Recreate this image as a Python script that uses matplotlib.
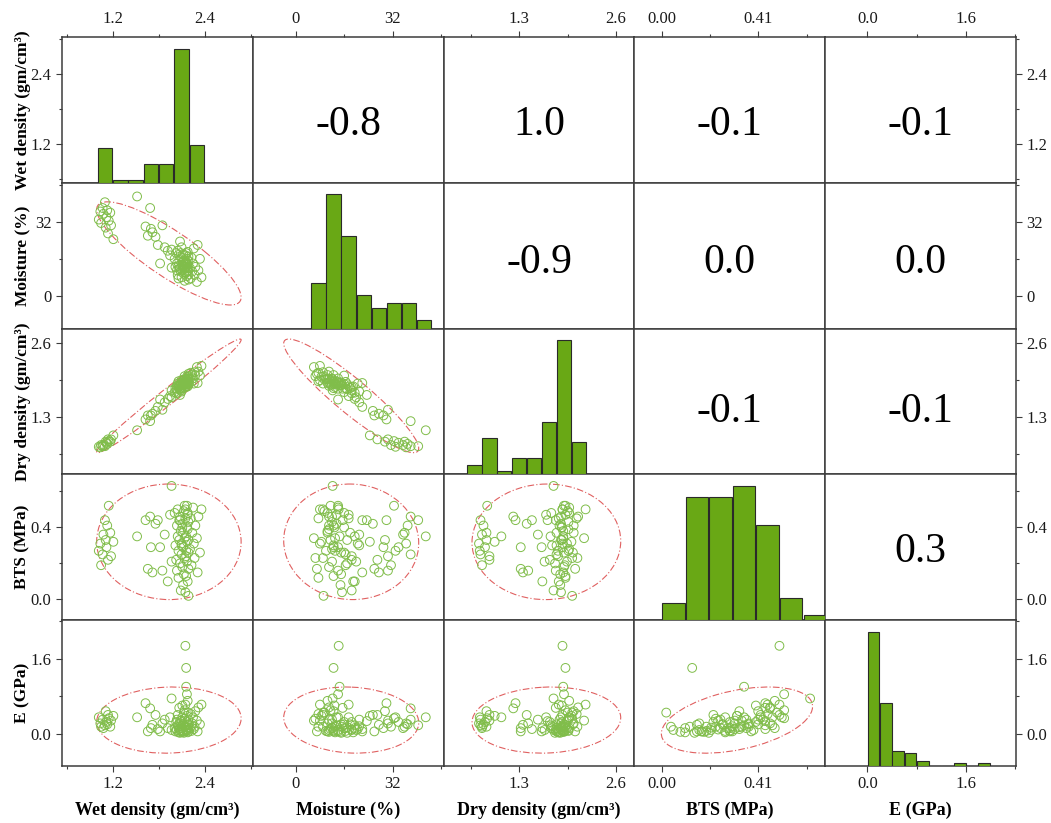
"""Scatter matrix of rock properties: histograms, scatter + 95% ellipses, correlations."""
import numpy as np
import matplotlib
matplotlib.use('Agg')
import matplotlib.pyplot as plt
from matplotlib.patches import Ellipse

plt.rcParams['font.family'] = ['Liberation Serif', 'DejaVu Serif']

names = ['Wet density (gm/cm³)', 'Moisture (%)', 'Dry density (gm/cm³)',
         'BTS (MPa)', 'E (GPa)']

# samples
wet = [1.02, 1.04, 1.05, 1.07, 1.08, 1.10, 1.11, 1.12, 1.13, 1.14, 1.15, 1.17, 1.18, 1.21,
       1.52, 1.63, 1.66, 1.69, 1.70, 1.72, 1.76, 1.79, 1.82, 1.85, 1.88, 1.92, 1.95, 1.97,
       2.01, 2.02, 2.03, 2.04, 2.04, 2.05, 2.05, 2.06, 2.06, 2.07, 2.07, 2.08, 2.08, 2.09,
       2.09, 2.10, 2.10, 2.11, 2.11, 2.12, 2.12, 2.13, 2.13, 2.14, 2.14, 2.15, 2.15, 2.15,
       2.16, 2.16, 2.16, 2.17, 2.17, 2.17, 2.18, 2.18, 2.18, 2.19, 2.19, 2.19, 2.19, 2.19,
       2.18, 2.17, 2.16, 2.14, 2.12, 2.11, 2.10, 2.08, 2.21, 2.22, 2.23, 2.24, 2.25, 2.26,
       2.27, 2.28, 2.30, 2.31, 2.32, 2.34, 2.36, 1.97]
moisture = [33.0, 36.5, 31.5, 38.0, 35.5, 40.5, 29.5, 34.0, 37.0, 27.0, 32.5, 36.0, 30.5, 24.5,
            43.0, 30.0, 26.0, 38.0, 29.0, 27.5, 25.5, 22.0, 14.0, 30.5, 21.0, 19.5, 17.5, 20.0,
            16.0, 12.5, 18.5, 11.0, 14.0, 9.0, 19.5, 13.0, 7.5, 15.5, 11.5, 17.0, 12.0, 10.5,
            18.5, 8.0, 16.5, 13.5, 11.0, 18.0, 12.5, 9.5, 15.0, 13.0, 6.5, 17.5, 15.3, 14.2,
            12.5, 14.5, 10.0, 16.0, 12.0, 8.5, 13.5, 19.0, 11.0, 15.0, 12.0, 7.0, 17.0, 9.2,
            10.5, 14.0, 18.5, 11.5, 14.8, 12.8, 21.0, 23.5, 12.0, 7.5, 16.5, 10.5, 14.0, 20.5,
            9.0, 12.5, 6.0, 22.0, 11.0, 16.0, 8.0, 12.2]
dry = [0.77, 0.76, 0.80, 0.78, 0.80, 0.78, 0.86, 0.84, 0.82, 0.90, 0.87, 0.86, 0.90, 0.97,
       1.06, 1.25, 1.32, 1.22, 1.32, 1.35, 1.40, 1.47, 1.60, 1.42, 1.55, 1.61, 1.66, 1.64,
       1.73, 1.80, 1.71, 1.84, 1.79, 1.88, 1.72, 1.82, 1.92, 1.79, 1.86, 1.78, 1.86, 1.89,
       1.76, 1.94, 1.80, 1.86, 1.90, 1.80, 1.88, 1.95, 1.85, 1.89, 2.01, 1.83, 1.86, 1.88,
       1.92, 1.89, 1.96, 1.87, 1.94, 2.00, 1.92, 1.83, 1.96, 1.90, 1.96, 2.05, 1.87, 2.01,
       1.97, 1.90, 1.82, 1.92, 1.85, 1.87, 1.74, 1.68, 1.97, 2.07, 1.91, 2.03, 1.97, 1.88,
       2.08, 2.03, 2.17, 1.89, 2.09, 2.02, 2.19, 1.76]
bts = [0.27, 0.31, 0.19, 0.25, 0.36, 0.44, 0.33, 0.29, 0.41, 0.22, 0.52, 0.37, 0.24, 0.32,
       0.35, 0.44, 0.17, 0.46, 0.29, 0.15, 0.42, 0.44, 0.29, 0.16, 0.36, 0.10, 0.47, 0.21,
       0.48, 0.30, 0.22, 0.41, 0.16, 0.50, 0.35, 0.27, 0.12, 0.44, 0.33, 0.20, 0.46, 0.38,
       0.05, 0.31, 0.25, 0.42, 0.18, 0.37, 0.29, 0.49, 0.14, 0.34, 0.23, 0.45, 0.04, 0.50,
       0.13, 0.35, 0.27, 0.40, 0.21, 0.32, 0.47, 0.10, 0.39, 0.26, 0.43, 0.17, 0.33, 0.02,
       0.48, 0.52, 0.24, 0.52, 0.08, 0.40, 0.30, 0.44, 0.28, 0.45, 0.19, 0.37, 0.51, 0.31,
       0.23, 0.41, 0.34, 0.15, 0.46, 0.26, 0.50, 0.63]
e_mod = [0.35, 0.22, 0.15, 0.30, 0.12, 0.18, 0.48, 0.25, 0.20, 0.40, 0.33, 0.15, 0.28, 0.38,
         0.35, 0.65, 0.05, 0.54, 0.12, 0.19, 0.40, 0.10, 0.05, 0.22, 0.30, 0.12, 0.35, 0.08,
         0.12, 0.05, 0.25, 0.30, 0.08, 0.40, 0.18, 0.03, 0.15, 0.55, 0.10, 0.02, 0.22, 0.05,
         0.08, 0.28, 0.12, 0.35, 0.04, 0.20, 0.07, 0.45, 0.02, 0.15, 0.32, 0.62, 0.15, 1.87,
         1.40, 1.00, 0.06, 0.25, 0.13, 0.38, 0.18, 0.03, 0.08, 0.20, 0.30, 0.05, 0.14, 0.45,
         0.70, 0.84, 0.09, 0.50, 0.04, 0.60, 0.16, 0.27, 0.12, 0.42, 0.06, 0.22, 0.35, 0.10,
         0.15, 0.48, 0.28, 0.05, 0.56, 0.20, 0.62, 0.75]

wet_edges = [1.0, 1.2, 1.4, 1.6, 1.8, 2.0, 2.2, 2.4]
wet_counts = [13, 1, 1, 7, 7, 50, 14]
moist_edges = [5, 10, 15, 20, 25, 30, 35, 40, 45]
moist_counts = [11, 32, 22, 8, 5, 6, 6, 2]
dry_edges = [0.6, 0.8, 1.0, 1.2, 1.4, 1.6, 1.8, 2.0, 2.2]
dry_counts = [3, 11, 1, 5, 5, 16, 41, 10]
bts_edges = [0.0, 0.1, 0.2, 0.3, 0.4, 0.5, 0.6, 0.7]
bts_counts = [3, 22, 22, 24, 17, 4, 1]
e_edges = [0.0, 0.2, 0.4, 0.6, 0.8, 1.0, 1.2, 1.4, 1.6, 1.8, 2.0]
e_counts = [53, 25, 6, 5, 2, 0, 0, 1, 0, 1]

# correlation coefficients printed in the upper triangle (row, col, text)
corr_cells = [(0, 1, '-0.8'), (0, 2, '1.0'), (0, 3, '-0.1'), (0, 4, '-0.1'),
              (1, 2, '-0.9'), (1, 3, '0.0'), (1, 4, '0.0'),
              (2, 3, '-0.1'), (2, 4, '-0.1'), (3, 4, '0.3')]

data = [wet, moisture, dry, bts, e_mod]
hists = [(wet_edges, wet_counts), (moist_edges, moist_counts), (dry_edges, dry_counts),
         (bts_edges, bts_counts), (e_edges, e_counts)]

lims = [(0.54, 3.03), (-14.2, 48.9), (0.285, 2.845), (-0.115, 0.694), (-0.685, 2.415)]
xmaj = [[1.2, 2.4], [0, 32], [1.3, 2.6], [0.0, 0.41], [0.0, 1.6]]
xmaj_lab = [['1.2', '2.4'], ['0', '32'], ['1.3', '2.6'], ['0.00', '0.41'], ['0.0', '1.6']]
xmin = [[0.6, 1.8, 3.0], [16, 48], [0.65, 1.95], [0.205, 0.615], [0.8, 2.4]]
ymaj = [[1.2, 2.4], [0, 32], [1.3, 2.6], [0.0, 0.4], [0.0, 1.6]]
ymaj_lab = [['1.2', '2.4'], ['0', '32'], ['1.3', '2.6'], ['0.0', '0.4'], ['0.0', '1.6']]
ymin = [[0.6, 1.8, 3.0], [16, 48], [0.65, 1.95], [0.2, 0.6], [0.8, 2.4]]
text_y = [0.40, 0.45, 0.43, 0.47]  # vertical spot of the coefficient in each row

bar_color = '#69a815'
pt_color = '#80bd4a'
ell_color = '#e06060'
frame = '#3c3c3c'

fig, axes = plt.subplots(5, 5, figsize=(10.51, 8.23), dpi=100)
plt.subplots_adjust(left=0.059, right=0.9667, top=0.955, bottom=0.0693,
                    wspace=0, hspace=0)

n = 5
for i in range(n):
    for j in range(n):
        ax = axes[i, j]
        if i == j:
            edges, counts = hists[i]
            edges = np.array(edges, dtype=float)
            tw = ax.twinx()
            tw.bar((edges[:-1] + edges[1:]) / 2, counts, width=np.diff(edges) * 0.95,
                   color=bar_color, edgecolor='#2a2a2a', linewidth=0.8)
            tw.set_ylim(0, max(counts) / 0.92)
            tw.set_yticks([])
            tw.tick_params(right=False, labelright=False, left=False)
            for s in tw.spines.values():
                s.set_visible(False)
        elif i > j:
            x = np.array(data[j])
            y = np.array(data[i])
            ax.scatter(x, y, s=40, facecolors='none', edgecolors=pt_color,
                       linewidths=0.7, zorder=3)
            # 95% confidence ellipse
            cov = np.cov(x, y)
            vals, vecs = np.linalg.eigh(cov)
            k = np.sqrt(5.991)
            ang = np.degrees(np.arctan2(vecs[1, 1], vecs[0, 1]))
            ell = Ellipse((x.mean(), y.mean()), 2 * k * np.sqrt(vals[1]),
                          2 * k * np.sqrt(vals[0]), angle=ang, fill=False,
                          edgecolor=ell_color, linewidth=0.8, linestyle=(0, (6, 2, 1, 2)),
                          zorder=2)
            ax.add_patch(ell)

        ax.set_xlim(lims[j])
        ax.set_ylim(lims[i])
        ax.set_xticks(xmaj[j])
        ax.set_xticklabels(xmaj_lab[j])
        ax.set_xticks(xmin[j], minor=True)
        ax.set_yticks(ymaj[i])
        ax.set_yticklabels(ymaj_lab[i])
        ax.set_yticks(ymin[i], minor=True)
        ax.tick_params(which='both', direction='out', colors=frame, labelcolor='#1a1a1a',
                       labelsize=12, width=0.8,
                       bottom=(i == n - 1), labelbottom=(i == n - 1),
                       top=(i == 0), labeltop=(i == 0),
                       left=(j == 0), labelleft=(j == 0),
                       right=(j == n - 1), labelright=(j == n - 1))
        ax.tick_params(which='major', length=4, pad=3.5)
        ax.tick_params(which='minor', length=2.5)
        for s in ax.spines.values():
            s.set_color(frame)
            s.set_linewidth(1.1)

        if j == 0:
            ax.set_ylabel(names[i], fontsize=12.5, fontweight='bold')
            ax.yaxis.set_label_coords(-0.165, 0.5)
        if i == n - 1:
            ax.set_xlabel(names[j], fontsize=13, fontweight='bold')
            ax.xaxis.set_label_coords(0.5, -0.245)

for i, j, txt in corr_cells:
    axes[i, j].text(0.5, text_y[i], txt, transform=axes[i, j].transAxes,
                    ha='center', va='center', fontsize=30)

plt.savefig('out.png', dpi=100)
